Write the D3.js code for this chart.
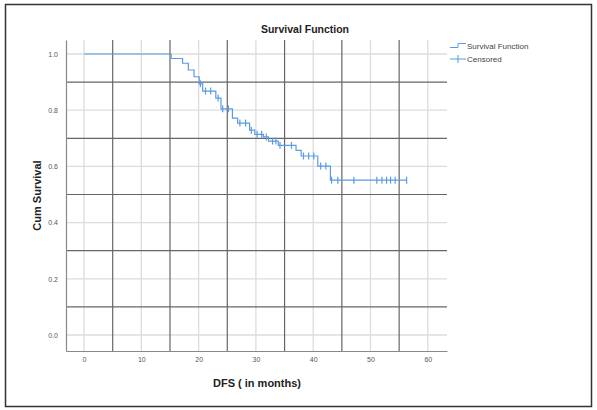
<!DOCTYPE html>
<html>
<head>
<meta charset="utf-8">
<script src="https://cdn.jsdelivr.net/npm/d3@7"></script>
<style>
  body { margin: 0; background: #fff; }
  svg { display: block; font-family: "Liberation Sans", Arial, sans-serif; }
</style>
</head>
<body>
<svg id="chart" width="597" height="410"></svg>
<script>
// step times (months) and cumulative survival after each step
const stepTimes = [0, 15.2, 17.2, 18.2, 19.2, 20.1, 20.7, 23.0, 23.9, 25.9, 26.8, 28.9, 29.8, 31.3, 32.2, 33.9, 37.0, 37.9, 40.8, 43.0];
const survival = [1.0, 0.984, 0.967, 0.943, 0.919, 0.894, 0.868, 0.843, 0.805, 0.772, 0.754, 0.729, 0.714, 0.705, 0.690, 0.675, 0.657, 0.637, 0.601, 0.551];
const lastTime = 56.3;
// censored observations
const censoredTimes = [20.3, 21.2, 22.1, 23.4, 24.2, 25.2, 27.2, 28.2, 29.2, 30.2, 31.0, 31.8, 32.9, 33.5, 34.2, 36.2,
  38.3, 39.2, 40.1, 41.3, 42.2, 43.2, 44.3, 47.1, 51.1, 52.0, 52.8, 53.5, 54.3, 56.3];
const xTicks = [0, 10, 20, 30, 40, 50, 60];
const yTicks = [0, 0.2, 0.4, 0.6, 0.8, 1.0];
const xMidLines = [5, 15, 25, 35, 45, 55];
const yMidLines = [0.1, 0.3, 0.5, 0.7, 0.9];

const svg = d3.select("#chart");
const blue = "#5b9be6";

// frame
svg.append("rect")
  .attr("x", 5.5).attr("y", 4.5)
  .attr("width", 586).attr("height", 402)
  .attr("fill", "none").attr("stroke", "#333").attr("stroke-width", 1.5);

const pLeft = 66, pRight = 447, pTop = 40, pBottom = 351;
const x = d3.scaleLinear().domain([-3.15, 63.35]).range([pLeft, pRight]);
const y = d3.scaleLinear().domain([-0.0569, 1.0498]).range([pBottom, pTop]);

// light grid at labelled ticks
svg.append("g").selectAll("line").data(xTicks).join("line")
  .attr("x1", d => x(d)).attr("x2", d => x(d))
  .attr("y1", pTop).attr("y2", pBottom)
  .attr("stroke", "#dcdcdc").attr("stroke-width", 1.3);
svg.append("g").selectAll("line").data(yTicks).join("line")
  .attr("x1", pLeft).attr("x2", pRight)
  .attr("y1", d => y(d)).attr("y2", d => y(d))
  .attr("stroke", "#dcdcdc").attr("stroke-width", 1.3);

// dark grid between ticks
svg.append("g").selectAll("line").data(xMidLines).join("line")
  .attr("x1", d => x(d)).attr("x2", d => x(d))
  .attr("y1", pTop).attr("y2", pBottom)
  .attr("stroke", "#666").attr("stroke-width", 1.2);
svg.append("g").selectAll("line").data(yMidLines).join("line")
  .attr("x1", pLeft).attr("x2", pRight)
  .attr("y1", d => y(d)).attr("y2", d => y(d))
  .attr("stroke", "#666").attr("stroke-width", 1.2);

// axes
const xAxis = svg.append("g")
  .attr("transform", `translate(0,${pBottom})`)
  .call(d3.axisBottom(x).tickValues(xTicks).tickSize(0).tickPadding(6).tickFormat(d3.format("d")));
const yAxis = svg.append("g")
  .attr("transform", `translate(${pLeft},0)`)
  .call(d3.axisLeft(y).tickValues(yTicks).tickSize(0).tickPadding(8).tickFormat(d3.format(".1f")));
[xAxis, yAxis].forEach(a => {
  a.select(".domain").attr("stroke", "#888").attr("stroke-width", 1.2);
  a.selectAll("text").attr("fill", "#555").style("font-size", "7px");
});

// survival step line
const pts = stepTimes.map((t, i) => [t, survival[i]]);
pts.push([lastTime, survival[survival.length - 1]]);
const line = d3.line().x(d => x(d[0])).y(d => y(d[1])).curve(d3.curveStepAfter);
svg.append("path").datum(pts)
  .attr("d", line).attr("fill", "none")
  .attr("stroke", blue).attr("stroke-width", 1.2);

// censored marks
const survAt = t => survival[d3.bisectRight(stepTimes, t) - 1];
svg.append("g").selectAll("line").data(censoredTimes).join("line")
  .attr("x1", d => x(d)).attr("x2", d => x(d))
  .attr("y1", d => y(survAt(d)) - 3.5).attr("y2", d => y(survAt(d)) + 3.5)
  .attr("stroke", blue).attr("stroke-width", 1.2);

// titles
svg.append("text").attr("x", 305).attr("y", 33)
  .attr("text-anchor", "middle").attr("font-weight", "bold")
  .style("font-size", "10.5px").attr("fill", "#222").text("Survival Function");
svg.append("text").attr("x", 257).attr("y", 387)
  .attr("text-anchor", "middle").attr("font-weight", "bold")
  .style("font-size", "11px").attr("fill", "#222").text("DFS ( in months)");
svg.append("text")
  .attr("transform", `translate(41,${(pTop + pBottom) / 2}) rotate(-90)`)
  .attr("text-anchor", "middle").attr("font-weight", "bold")
  .style("font-size", "11px").attr("fill", "#222").text("Cum Survival");

// legend
const lg = svg.append("g").attr("transform", "translate(450,0)");
lg.append("path").attr("d", "M0,47.5 H8 V43.5 H16")
  .attr("fill", "none").attr("stroke", blue).attr("stroke-width", 1);
lg.append("line").attr("x1", 0).attr("x2", 16).attr("y1", 59).attr("y2", 59)
  .attr("stroke", blue).attr("stroke-width", 1);
lg.append("line").attr("x1", 8).attr("x2", 8).attr("y1", 55).attr("y2", 63)
  .attr("stroke", blue).attr("stroke-width", 1);
lg.append("text").attr("x", 17).attr("y", 49).style("font-size", "8px")
  .attr("fill", "#444").text("Survival Function");
lg.append("text").attr("x", 17).attr("y", 62).style("font-size", "8px")
  .attr("fill", "#444").text("Censored");
</script>
</body>
</html>
